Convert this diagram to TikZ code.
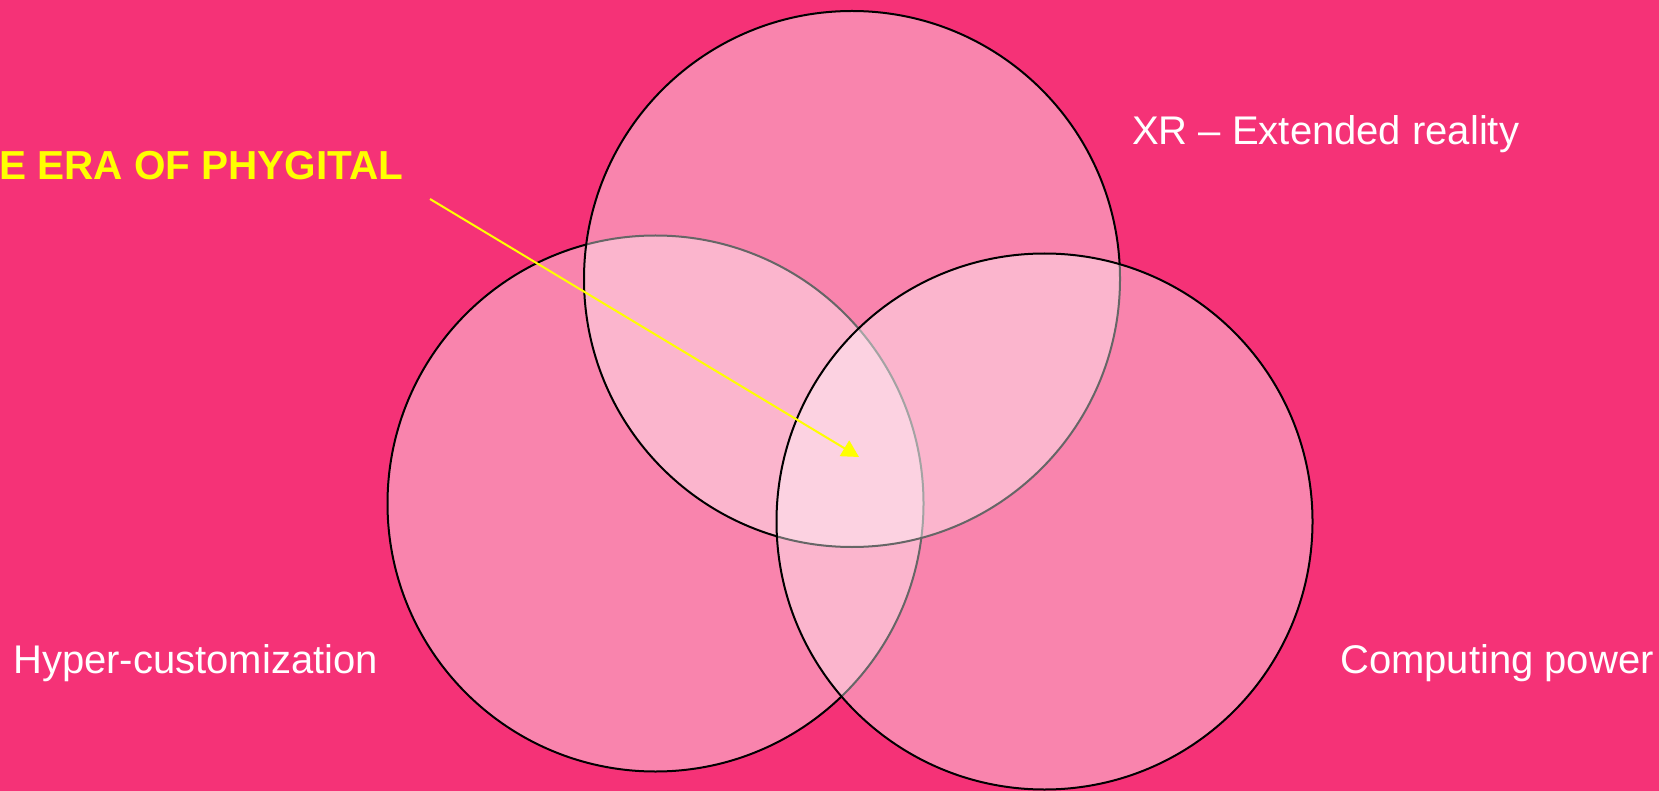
\documentclass[tikz,border=0pt]{standalone}
\usepackage{fontspec}
\setmainfont{Liberation Sans}
\usetikzlibrary{arrows.meta}
\definecolor{bgpink}{HTML}{F53277}
\definecolor{phyyellow}{HTML}{FFFF00}
\begin{document}
\begin{tikzpicture}[x=1pt,y=-1pt,
  venn/.style={circle,draw=black,line width=2pt,fill=white,fill opacity=0.4,draw opacity=1,minimum size=536pt,inner sep=0pt,outer sep=0pt},
  lbl/.style={text=white,font=\fontsize{40}{48}\selectfont,inner sep=0pt,anchor=base west},
  title/.style={text=phyyellow,font=\fontsize{40.5}{48}\selectfont\bfseries,inner sep=0pt,anchor=base west},
  pointer/.style={draw=phyyellow,line width=2pt,-{Triangle[width=18pt,length=17pt]}}]
\useasboundingbox[fill=bgpink] (0,0) rectangle (1659,791);
\node[venn] (cL) at (655.5,503.5) {};
\node[venn] (cT) at (852,279) {};
\node[venn] (cR) at (1044.5,521.5) {};
\node[title] (phy) at (-1,180) {E ERA OF PHYGITAL};
\node[lbl] (xr) at (1132,145) {XR – Extended reality};
\node[lbl] (hc) at (13,673) {Hyper-customization};
\node[lbl] (cp) at (1340,673) {Computing power};
\coordinate (arrstart) at (430,199);
\coordinate (arrtip) at (859,457);
\draw[pointer] (arrstart) -- (arrtip);
\end{tikzpicture}
\end{document}
